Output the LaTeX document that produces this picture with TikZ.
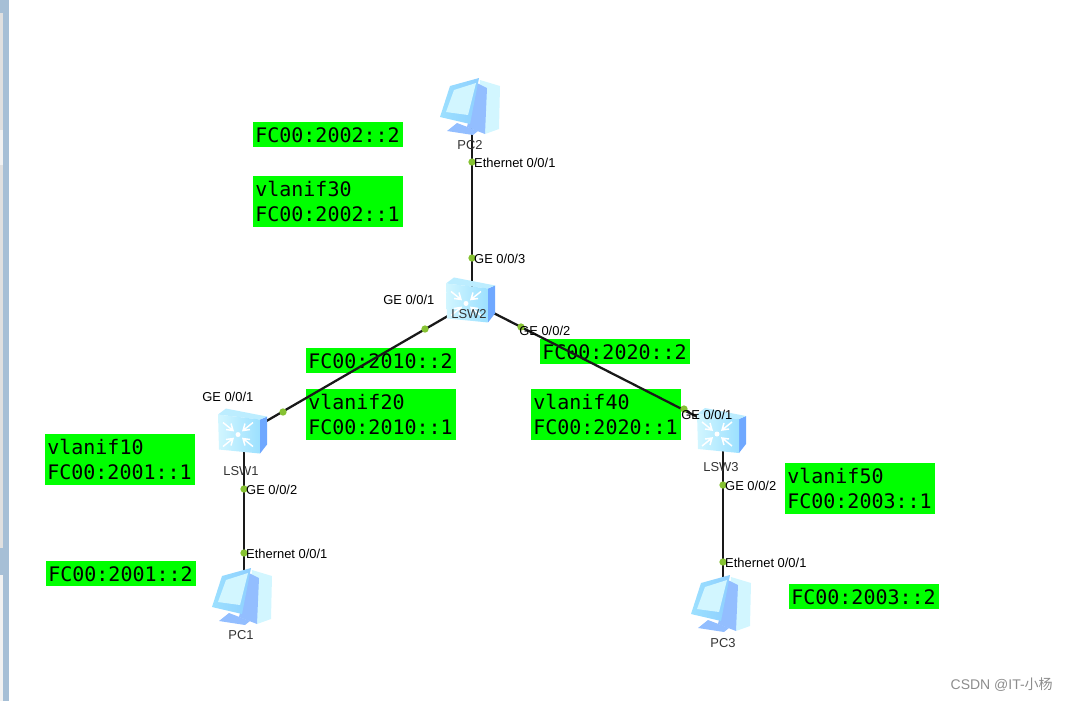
\documentclass[tikz,border=0pt]{standalone}
\usepackage{fontspec}
\setmainfont{Liberation Sans}
\newfontfamily\monofont{DejaVu Sans Mono}
\newfontfamily\cjkfont{Noto Sans CJK SC}
\usepackage{tikz}
\usetikzlibrary{positioning}

\definecolor{addrgreen}{HTML}{00FF00}
\definecolor{portgreen}{HTML}{86C232}
\definecolor{iconface}{HTML}{9CE0FF}
\definecolor{iconside}{HTML}{6FA8FF}
\definecolor{iconpale}{HTML}{D2F6FF}
\definecolor{barblue}{HTML}{A6BFD6}

\tikzset{
    addrbox/.style={fill=addrgreen, anchor=north west, align=left, text width=109.5pt, inner xsep=1.5pt, inner ysep=3.7pt,
        font=\monofont\fontsize{15}{18.75}\selectfont},
    portdot/.style={circle, fill=portgreen, inner sep=0pt, minimum size=5.5pt},
    portlabel/.style={anchor=west, inner sep=0pt, yshift=-0.75pt, font=\fontsize{9.7}{11}\selectfont},
    devlabel/.style={inner sep=0pt, text=black!80, font=\fontsize{9.7}{11}\selectfont},
    devnode/.style={inner sep=0pt, minimum size=1pt},
    link/.style={line width=1.7pt, black!90},
    pcicon/.pic={
        \fill[iconpale] (9,-27) -- (29,-21) -- (28,22) -- (14,27) -- (6,10) -- cycle;
        \fill[iconside!75] (6,-24) -- (16,-19) -- (14,27) -- (-4,20) -- cycle;
        \fill[iconside!75] (-24,24) -- (-14,16) -- (7,24) -- (2,28) -- cycle;
        \shade[left color=iconface, right color=iconface!70!iconside] (-21,-21) -- (8,-29) -- (-1,17) -- (-31,10) -- cycle;
        \fill[iconpale] (-17,-17) -- (5,-24) -- (-3,8) -- (-25,5) -- cycle;
    },
    switchicon/.pic={
        \fill[iconside] (17,-11) -- (24,-14) -- (24,14) -- (17,23) -- cycle;
        \fill[iconpale!60!iconface] (-25,-16) -- (-17,-22) -- (24,-14) -- (17,-11) -- cycle;
        \shade[left color=iconpale, right color=iconface] (-25,-16) -- (17,-11) -- (17,23) -- (-24,19) -- cycle;
        \fill[white] (-5,4) circle (2.5);
        \foreach \sx/\sy in {-1/-1,1/-1,-1/1,1/1}
            \draw[white, line width=1.1pt, shift={(-5,4)}] (\sx*5,\sy*4) -- (\sx*15,\sy*12)
                (\sx*12,\sy*5) -- (\sx*5,\sy*4) -- (\sx*7,\sy*11);
    },
}

\begin{document}
\begin{tikzpicture}[x=0.75pt, y=-0.75pt]
    \useasboundingbox (0,0) rectangle (1067,701);
    % window edge
    \fill[barblue] (0,0) rectangle (9,701);
    \fill[black!12] (0,13) rectangle (3,130);
    \fill[black!5] (0,130) rectangle (3,165);
    \fill[black!12] (0,165) rectangle (3,548);
    \fill[black!5] (0,575) rectangle (3,701);

    % addresses
    \node[addrbox] (addr2) at (253,122) {FC00:2002::2};
    \node[addrbox] (vlan30) at (253,176) {vlanif30\\FC00:2002::1};
    \node[addrbox] (addr10) at (306,348) {FC00:2010::2};
    \node[addrbox] (vlan20) at (306,389) {vlanif20\\FC00:2010::1};
    \node[addrbox] (addr20) at (540,339) {FC00:2020::2};
    \node[addrbox] (vlan40) at (531,389) {vlanif40\\FC00:2020::1};
    \node[addrbox] (vlan10) at (45,434) {vlanif10\\FC00:2001::1};
    \node[addrbox] (addr1) at (46,561) {FC00:2001::2};
    \node[addrbox] (vlan50) at (785,463) {vlanif50\\FC00:2003::1};
    \node[addrbox] (addr3) at (789,584) {FC00:2003::2};

    % devices
    \node[devnode] (pc2) at (472,107) {};
    \node[devnode] (lsw2) at (472,302) {};
    \node[devnode] (lsw1) at (244,434) {};
    \node[devnode] (lsw3) at (723,430) {};
    \node[devnode] (pc1) at (244,597) {};
    \node[devnode] (pc3) at (723,604) {};

    \draw[link] (pc2) -- (lsw2);
    \draw[link] (lsw2) -- (lsw1);
    \draw[link] (lsw2) -- (lsw3);
    \draw[link] (lsw1) -- (pc1);
    \draw[link] (lsw3) -- (pc3);

    \foreach \n in {pc1,pc2,pc3} \pic[xshift=-0.75pt] at (\n) {pcicon};
    \foreach \n/\up in {lsw1/2.6pt,lsw2/1.9pt,lsw3/0pt} \pic[yshift=\up, xshift=-0.75pt] at (\n) {switchicon};

    \node[devlabel] (pc2name) at (470,145) {PC2};
    \node[devlabel] (lsw2name) at (469,314) {LSW2};
    \node[devlabel] (lsw1name) at (241,471) {LSW1};
    \node[devlabel] (lsw3name) at (721,467) {LSW3};
    \node[devlabel] (pc1name) at (241,635) {PC1};
    \node[devlabel] (pc3name) at (723,643) {PC3};

    % ports
    \foreach \name/\px/\py in {a/472/162, b/472/258, c/425/329, d/521/327, e/283/412, f/684/409, g/244/489, h/244/553, i/723/485, j/723/562}
        \node[portdot] (port\name) at (\px,\py) {};

    \node[portlabel, right=-1.5pt of porta] (labela) {Ethernet 0/0/1};
    \node[portlabel, right=-1.5pt of portb] (labelb) {GE 0/0/3};
    \node[portlabel] (labelc) at (383,299) {GE 0/0/1};
    \node[portlabel] (labeld) at (519,330) {GE 0/0/2};
    \node[portlabel] (labele) at (202,396) {GE 0/0/1};
    \node[portlabel] (labelf) at (681,414) {GE 0/0/1};
    \node[portlabel, right=-1.5pt of portg] (labelg) {GE 0/0/2};
    \node[portlabel, right=-1.5pt of porth] (labelh) {Ethernet 0/0/1};
    \node[portlabel, right=-1.5pt of porti] (labeli) {GE 0/0/2};
    \node[portlabel, right=-1.5pt of portj] (labelj) {Ethernet 0/0/1};

    \node[anchor=east, inner sep=0pt, text=black!45, font=\fontsize{10.5}{12}\selectfont] (mark) at (1053,685) {CSDN @IT-{\cjkfont 小杨}};
\end{tikzpicture}
\end{document}
